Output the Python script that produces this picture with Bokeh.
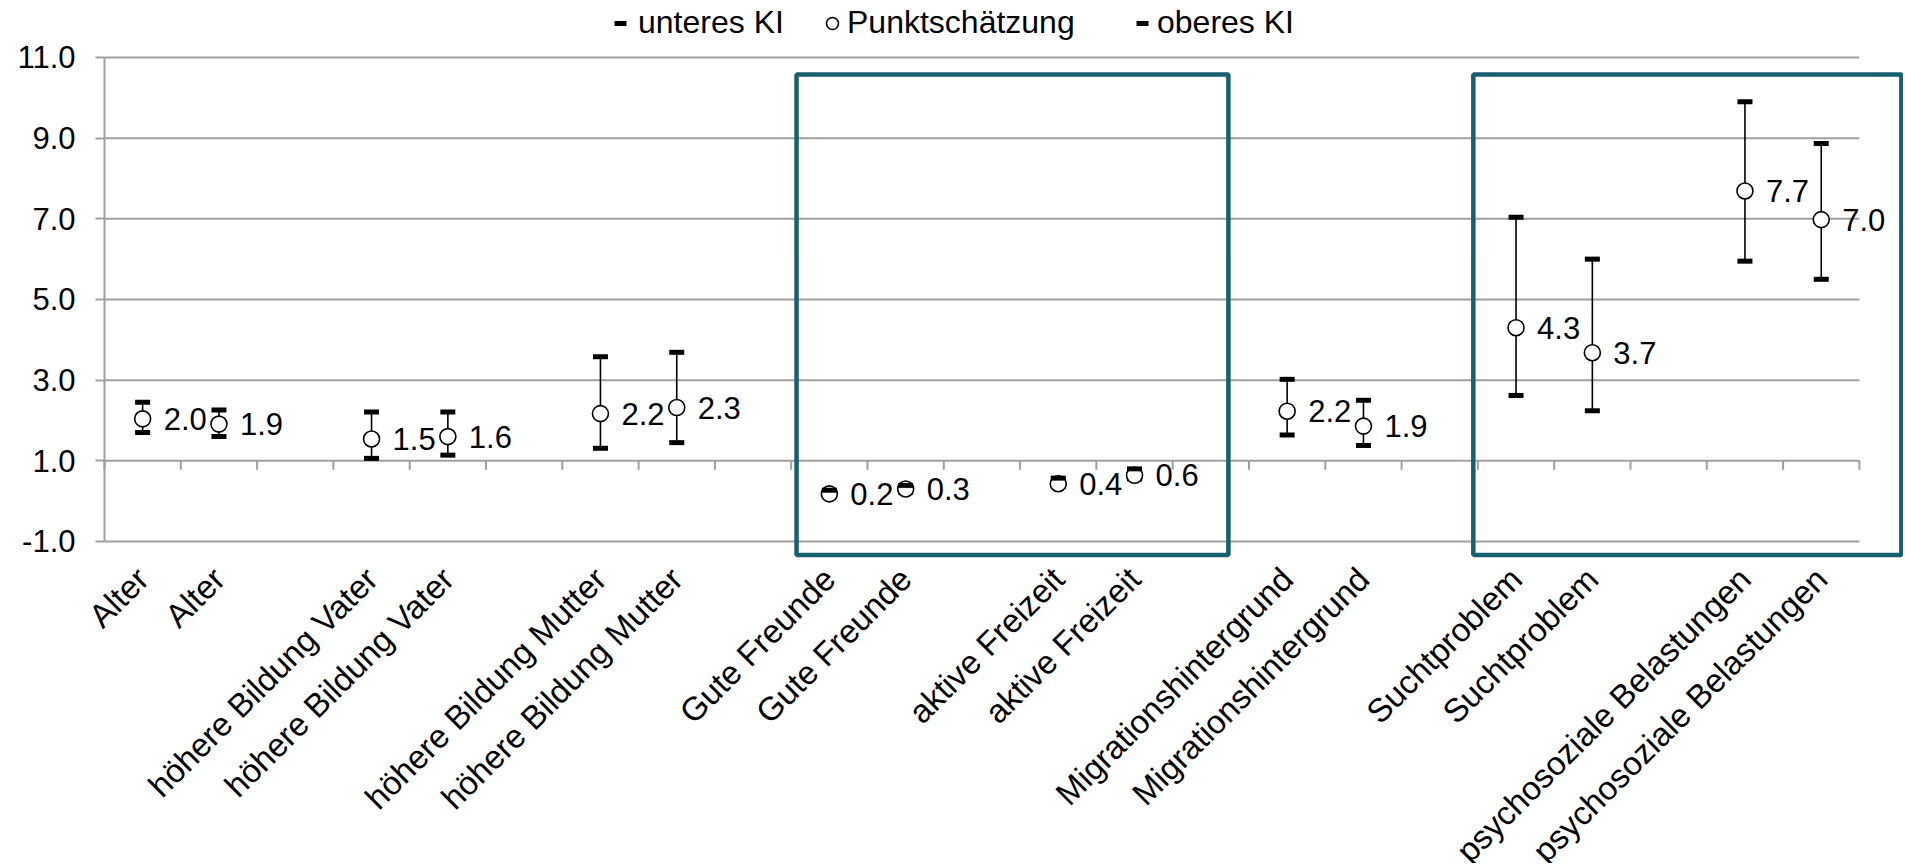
import math
from bokeh.plotting import figure
from bokeh.models import (Range1d, FixedTicker, Legend, LegendItem, BoxAnnotation,
                          ColumnDataSource, NumeralTickFormatter)
from bokeh.core.properties import value
from bokeh.embed import file_html
from bokeh.resources import INLINE

# ---------------- data ----------------
categories = ["Alter", "Alter", "",
              "höhere Bildung Vater", "höhere Bildung Vater", "",
              "höhere Bildung Mutter", "höhere Bildung Mutter", "",
              "Gute Freunde", "Gute Freunde", "",
              "aktive Freizeit", "aktive Freizeit", "",
              "Migrationshintergrund", "Migrationshintergrund", "",
              "Suchtproblem", "Suchtproblem", "",
              "psychosoziale Belastungen", "psychosoziale Belastungen"]
punkt = [2.04, 1.91, None, 1.54, 1.60, None, 2.17, 2.32, None,
         0.18, 0.30, None, 0.43, 0.64, None, 2.23, 1.86, None,
         4.30, 3.68, None, 7.69, 6.98]
unteres = [1.70, 1.60, None, 1.06, 1.14, None, 1.31, 1.45, None,
           0.12, 0.22, None, 0.36, 0.55, None, 1.64, 1.38, None,
           2.62, 2.24, None, 5.95, 5.50]
oberes = [2.45, 2.26, None, 2.21, 2.21, None, 3.58, 3.69, None,
          0.27, 0.39, None, 0.57, 0.80, None, 3.02, 2.50, None,
          7.04, 6.00, None, 9.90, 8.87]
y_ticks = [-1, 1, 3, 5, 7, 9, 11]
legend_labels = ["unteres KI", "Punktschätzung", "oberes KI"]

FONT = "Liberation Sans"
GRID = "#a0a0a0"
TEAL = "#17606f"

idx = [i for i, c in enumerate(categories) if c]
xs = [i + 0.5 for i in idx]
src = ColumnDataSource(dict(
    x=xs,
    p=[punkt[i] for i in idx],
    lo=[unteres[i] for i in idx],
    hi=[oberes[i] for i in idx],
    lab=["%.1f" % punkt[i] for i in idx],
))

n_cat = len(categories)
W, H = 1903, 863
PX_PER_UNIT = 40.33      # vertical pixels per value unit
PX_PER_CAT = 76.3        # horizontal pixels per category
AXIS_PX = 104            # pixel position of the value axis
Y_TOP = 12.413
Y_BOTTOM = Y_TOP - H / PX_PER_UNIT
X_LEFT = -AXIS_PX / PX_PER_CAT
X_RIGHT = (W - AXIS_PX) / PX_PER_CAT
p = figure(width=W, height=H, output_backend="svg", toolbar_location=None,
           x_range=Range1d(X_LEFT, X_RIGHT), y_range=Range1d(Y_BOTTOM, Y_TOP),
           x_axis_location=None,
           min_border_left=0, min_border_right=0, min_border_top=0,
           min_border_bottom=0)
p.outline_line_color = None
p.xgrid.visible = False
p.ygrid.visible = False
p.background_fill_color = "white"
p.border_fill_color = "white"

# horizontal gridlines spanning the category area
p.segment(x0=[0] * len(y_ticks), x1=[n_cat] * len(y_ticks), y0=y_ticks, y1=y_ticks,
          line_color=GRID, line_width=2)
# category tick marks on the horizontal axis (crossing at 1.0)
tick_len = 9 / PX_PER_UNIT
p.segment(x0=list(range(n_cat + 1)), x1=list(range(n_cat + 1)),
          y0=[1] * (n_cat + 1), y1=[1 - tick_len] * (n_cat + 1),
          line_color=GRID, line_width=2)

# y axis, fixed at the left edge of the category area
ya = p.yaxis[0]
ya.fixed_location = 0
ya.ticker = FixedTicker(ticks=y_ticks)
ya.formatter = NumeralTickFormatter(format="0.0")
ya.bounds = (min(y_ticks), max(y_ticks))
ya.axis_line_color = GRID
ya.axis_line_width = 2
ya.major_tick_line_color = GRID
ya.major_tick_line_width = 2
ya.major_tick_out = 9
ya.major_tick_in = 0
ya.minor_tick_line_color = None
ya.major_label_text_font = FONT
ya.major_label_text_font_size = "31px"
ya.major_label_text_color = "black"
ya.major_label_standoff = 20

# category labels (rotated, below the plot area, "labels low")
label_y = min(y_ticks) - 32 / PX_PER_UNIT
cat_src = ColumnDataSource(dict(x=xs, y=[label_y] * len(xs), t=[categories[i] for i in idx]))
p.text("x", "y", text="t", source=cat_src, angle=math.pi / 4, x_offset=0,
       text_align="right", text_baseline="middle",
       text_font=value(FONT), text_font_size="33px", text_color="black")

# high-low lines and markers
p.segment(x0="x", x1="x", y0="lo", y1="hi", source=src, line_color="black", line_width=1.6)
r_lo = p.scatter("x", "lo", source=src, marker="dash", size=15, line_width=5, line_color="black")
r_pt = p.scatter("x", "p", source=src, marker="circle", size=16, fill_color="white",
                 line_color="black", line_width=1.6)
r_hi = p.scatter("x", "hi", source=src, marker="dash", size=15, line_width=5, line_color="black")

p.text("x", "p", text="lab", source=src, x_offset=21, text_align="left", text_baseline="middle",
       text_font=value(FONT), text_font_size="31px", text_color="black")

# highlight boxes
for l, r, t, b in [(9.07, 14.73, 10.58, -1.335), (17.94, 23.55, 10.58, -1.335)]:
    p.add_layout(BoxAnnotation(left=l, right=r, top=t, bottom=b, fill_color=None,
                               fill_alpha=0, line_color=TEAL, line_alpha=1.0, line_width=4.5))

# legend: three single-item legends positioned like the original
for lab, rend, lx, stand in [(legend_labels[0], r_lo, 605, 3),
                             (legend_labels[1], r_pt, 817, -4),
                             (legend_labels[2], r_hi, 1127, -6)]:
    lg = Legend(items=[LegendItem(label=lab, renderers=[rend])],
                orientation="horizontal", location=(lx, H - 41),
                glyph_width=30, glyph_height=30, label_standoff=stand,
                padding=0, margin=0, border_line_color=None, background_fill_alpha=0,
                label_text_font=FONT, label_text_font_size="32px", label_text_color="black")
    p.add_layout(lg)

open("out.html", "w").write(file_html(p, INLINE))
